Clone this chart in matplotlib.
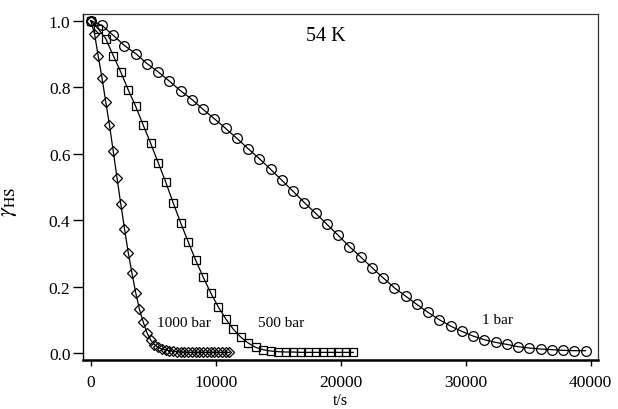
import matplotlib
matplotlib.use("Agg")
import matplotlib.pyplot as plt

plt.rcParams['font.family'] = ['Liberation Serif', 'DejaVu Serif']
plt.rcParams['mathtext.fontset'] = 'stix'

# 1 bar (circles)
t_1bar = [0, 900, 1800, 2700, 3600, 4500, 5400, 6300, 7200, 8100, 9000, 9900,
          10800, 11700, 12600, 13500, 14400, 15300, 16200, 17100, 18000, 18900,
          19800, 20700, 21600, 22500, 23400, 24300, 25200, 26100, 27000, 27900,
          28800, 29700, 30600, 31500, 32400, 33300, 34200, 35100, 36000, 36900,
          37800, 38700, 39600]
y_1bar = [1.000, 0.986, 0.956, 0.925, 0.901, 0.871, 0.846, 0.818, 0.789, 0.763,
          0.733, 0.705, 0.676, 0.646, 0.615, 0.585, 0.553, 0.520, 0.487, 0.453,
          0.421, 0.388, 0.355, 0.321, 0.290, 0.258, 0.227, 0.197, 0.172, 0.147,
          0.123, 0.101, 0.082, 0.066, 0.052, 0.041, 0.033, 0.027, 0.020, 0.016,
          0.013, 0.011, 0.009, 0.008, 0.008]

# 500 bar (squares)
t_500bar = [0, 600, 1200, 1800, 2400, 3000, 3600, 4200, 4800, 5400, 6000, 6600,
            7200, 7800, 8400, 9000, 9600, 10200, 10800, 11400, 12000, 12600,
            13200, 13800, 14400, 15000, 15600, 16200, 16800, 17400, 18000,
            18600, 19200, 19800, 20400, 21000]
y_500bar = [1.000, 0.975, 0.946, 0.895, 0.846, 0.792, 0.742, 0.686, 0.631, 0.573,
            0.515, 0.452, 0.392, 0.335, 0.280, 0.229, 0.182, 0.140, 0.104, 0.073,
            0.049, 0.031, 0.018, 0.011, 0.007, 0.005, 0.004, 0.004, 0.003, 0.003,
            0.003, 0.003, 0.003, 0.003, 0.003, 0.003]

# 1000 bar (diamonds)
t_1000bar = [0, 300, 600, 900, 1200, 1500, 1800, 2100, 2400, 2700, 3000, 3300,
             3600, 3900, 4200, 4500, 4800, 5100, 5400, 5700, 6000, 6300, 6600,
             6900, 7200, 7500, 7800, 8100, 8400, 8700, 9000, 9300, 9600, 9900,
             10200, 10500, 10800, 11100]
y_1000bar = [1.000, 0.961, 0.893, 0.828, 0.756, 0.686, 0.608, 0.528, 0.450, 0.375,
             0.303, 0.241, 0.182, 0.132, 0.094, 0.062, 0.040, 0.026, 0.018, 0.013,
             0.010, 0.008, 0.006, 0.005, 0.004, 0.004, 0.003, 0.003, 0.003, 0.003,
             0.003, 0.003, 0.003, 0.003, 0.003, 0.003, 0.003, 0.003]

x_ticks = [0, 10000, 20000, 30000, 40000]
y_ticks = [0.0, 0.2, 0.4, 0.6, 0.8, 1.0]

fig = plt.figure(figsize=(6.18, 4.10), dpi=100)
ax = fig.add_axes([83/618, 1 - 361/410, (598-83)/618, (361-15)/410])

common = dict(color='black', linewidth=0.9, markerfacecolor='none',
              markeredgecolor='black', markeredgewidth=0.9)
ax.plot(t_1bar, y_1bar, marker='o', markersize=7.0, **common)
ax.plot(t_500bar, y_500bar, marker='s', markersize=5.8, **common)
ax.plot(t_1000bar, y_1000bar, marker='D', markersize=4.8, **common)

ax.set_xlim(-620, 40600)
ax.set_ylim(-0.02, 1.02)
ax.set_xticks(x_ticks)
ax.set_xticklabels([str(v) for v in x_ticks])
ax.set_yticks(y_ticks)
ax.set_yticklabels([f"{v:.1f}" for v in y_ticks])
ax.tick_params(axis='x', direction='out', length=4, width=1, pad=6, labelsize=12.5)
ax.tick_params(axis='y', direction='out', length=7, width=1, pad=2, labelsize=12.5)

ax.spines['left'].set_linewidth(1.0)
ax.spines['bottom'].set_linewidth(1.8)
for s in ['top', 'right']:
    ax.spines[s].set_linewidth(0.9)
    ax.spines[s].set_color('#333333')

ax.set_xlabel('t/s', fontsize=11.5)
ax.xaxis.set_label_coords(0.5, -0.093)
ax.set_ylabel(r'$\gamma_{\mathrm{HS}}$', fontsize=16)
ax.yaxis.set_label_coords(-0.125, 0.46)

ax.text(17200, 0.955, '54 K', fontsize=14.5, ha='left', va='center')
ax.text(5280, 0.094, '1000 bar', fontsize=11, ha='left', va='center')
ax.text(13400, 0.094, '500 bar', fontsize=11, ha='left', va='center')
ax.text(31280, 0.103, '1 bar', fontsize=11, ha='left', va='center')

fig.savefig('out.png', dpi=100)
